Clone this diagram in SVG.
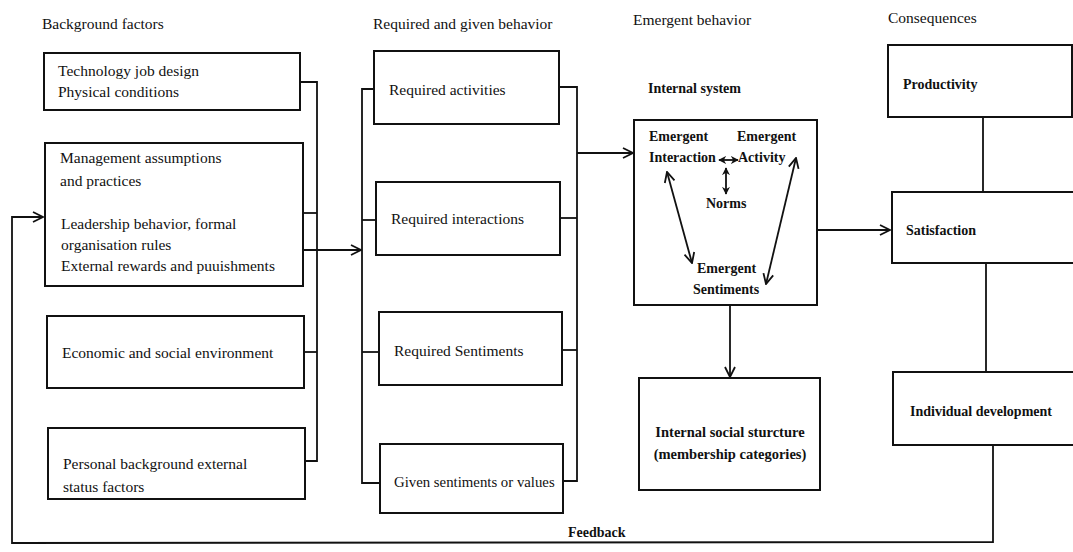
<svg xmlns="http://www.w3.org/2000/svg" width="1073" height="552" viewBox="0 0 1073 552">
<style>
.bx{fill:none;stroke:#111;stroke-width:2}
.ln{fill:none;stroke:#111;stroke-width:1.8}
.t{font-family:"Liberation Serif","Times New Roman",serif;font-size:15.5px;fill:#111}
.b{font-weight:bold;font-size:14px}
.h{font-size:15.5px}
.i{font-size:14.5px}
</style>
<defs>
<marker id="ah" viewBox="0 0 12 12" refX="11" refY="6" markerWidth="12" markerHeight="12" markerUnits="userSpaceOnUse" orient="auto-start-reverse">
<path d="M1,1 L11,6 L1,11" fill="none" stroke="#111" stroke-width="1.8"/>
</marker>
<marker id="sh" viewBox="0 0 10 10" refX="9" refY="5" markerWidth="8" markerHeight="8" markerUnits="userSpaceOnUse" orient="auto-start-reverse">
<path d="M0,0 L10,5 L0,10 L3,5 Z" fill="#111"/>
</marker>
</defs>
<rect width="1073" height="552" fill="#fff"/>

<text class="t h" x="42" y="29">Background factors</text>
<text class="t h" x="373" y="29">Required and given behavior</text>
<text class="t h" x="633" y="25">Emergent behavior</text>
<text class="t h" x="888" y="23">Consequences</text>

<g id="connectors">
<polyline class="ln" points="300,82 317,82 317,461 305,461"/>
<line class="ln" x1="303" y1="213" x2="317" y2="213"/>
<line class="ln" x1="304" y1="352" x2="317" y2="352"/>
<line class="ln" x1="304" y1="250" x2="361" y2="250" marker-end="url(#ah)"/>
<polyline class="ln" points="374,89 362,89 362,483 380,483"/>
<line class="ln" x1="362" y1="220" x2="376" y2="220"/>
<line class="ln" x1="362" y1="352" x2="379" y2="352"/>
<polyline class="ln" points="559,87 577,87 577,481 563,481"/>
<line class="ln" x1="560" y1="218" x2="577" y2="218"/>
<line class="ln" x1="562" y1="350" x2="577" y2="350"/>
<line class="ln" x1="577" y1="153" x2="633" y2="153" marker-end="url(#ah)"/>
<line class="ln" x1="730" y1="305" x2="730" y2="377" marker-end="url(#ah)"/>
<line class="ln" x1="817" y1="230" x2="890" y2="230" marker-end="url(#ah)"/>
<line class="ln" x1="983" y1="117" x2="983" y2="192"/>
<line class="ln" x1="986" y1="263" x2="986" y2="372"/>
<polyline class="ln" points="993,445 993,542 12,543 12,217 43,217" marker-end="url(#ah)"/>
<text class="t b" x="568" y="537">Feedback</text>
</g>

<g id="tech">
<rect class="bx" x="44" y="53" width="256" height="57"/>
<text class="t" x="58" y="76">Technology job design</text>
<text class="t" x="58" y="97">Physical conditions</text>
</g>
<g id="mgmt">
<rect class="bx" x="45" y="143" width="258" height="143"/>
<text class="t" x="60" y="163">Management assumptions</text>
<text class="t" x="60" y="186">and practices</text>
<text class="t" x="61" y="229">Leadership behavior, formal</text>
<text class="t" x="61" y="250">organisation rules</text>
<text class="t" x="61" y="271">External rewards and puuishments</text>
</g>
<g id="econ">
<rect class="bx" x="47" y="316" width="257" height="72"/>
<text class="t" x="62" y="358">Economic and social environment</text>
</g>
<g id="personal">
<rect class="bx" x="48" y="428" width="257" height="71"/>
<text class="t" x="63" y="469">Personal background external</text>
<text class="t" x="63" y="492">status factors</text>
</g>

<g id="req-act">
<rect class="bx" x="374" y="51" width="185" height="73"/>
<text class="t" x="389" y="95">Required activities</text>
</g>
<g id="req-int">
<rect class="bx" x="376" y="182" width="184" height="73"/>
<text class="t" x="391" y="224">Required interactions</text>
</g>
<g id="req-sent">
<rect class="bx" x="379" y="312" width="183" height="73"/>
<text class="t" x="394" y="356">Required Sentiments</text>
</g>
<g id="given">
<rect class="bx" x="380" y="444" width="183" height="69"/>
<text class="t" x="394" y="487" style="font-size:14.8px">Given sentiments or values</text>
</g>

<g id="internal">
<text class="t b" x="648" y="93">Internal system</text>
<rect class="bx" x="634" y="120" width="183" height="185"/>
<text class="t b" x="649" y="141">Emergent</text>
<text class="t b" x="649" y="162">Interaction</text>
<text class="t b" x="737" y="141">Emergent</text>
<text class="t b" x="738" y="162">Activity</text>
<text class="t b" x="706" y="208">Norms</text>
<text class="t b" x="697" y="273">Emergent</text>
<text class="t b" x="693" y="294">Sentiments</text>
<line class="ln" x1="719" y1="160" x2="738" y2="160" stroke-width="1.4" marker-start="url(#sh)" marker-end="url(#sh)"/>
<line class="ln" x1="726" y1="168" x2="726" y2="194" stroke-width="1.4" marker-start="url(#sh)" marker-end="url(#sh)"/>
<line class="ln" x1="667" y1="172" x2="692" y2="263" marker-start="url(#ah)" marker-end="url(#ah)"/>
<line class="ln" x1="796" y1="158" x2="766" y2="284" marker-start="url(#ah)" marker-end="url(#ah)"/>
</g>
<g id="iss">
<rect class="bx" x="639" y="378" width="181" height="112"/>
<text class="t b i" x="730" y="437" text-anchor="middle">Internal social sturcture</text>
<text class="t b i" x="730" y="459" text-anchor="middle">(membership categories)</text>
</g>

<g id="productivity">
<rect class="bx" x="888" y="45" width="184" height="72"/>
<text class="t b" x="903" y="89">Productivity</text>
</g>
<g id="satisfaction">
<rect class="bx" x="892" y="192" width="182" height="71"/>
<text class="t b" x="906" y="235">Satisfaction</text>
</g>
<g id="individual">
<rect class="bx" x="893" y="372" width="182" height="73"/>
<text class="t b" x="910" y="416">Individual development</text>
</g>
</svg>
